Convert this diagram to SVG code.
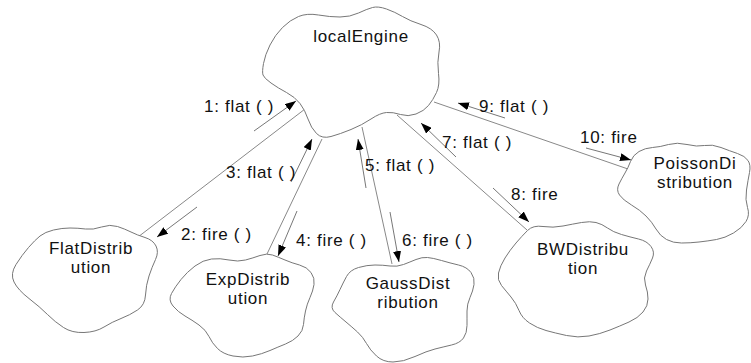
<svg xmlns="http://www.w3.org/2000/svg" width="751" height="363" viewBox="0 0 751 363">
<style>
.cloud{fill:#fff;stroke:#777;stroke-width:1;stroke-linejoin:round}
.conn{stroke:#888;stroke-width:1;fill:none}
.msg{stroke:#777;stroke-width:1;fill:none;marker-end:url(#ah)}
text{font-family:"Liberation Sans",Arial,Helvetica,sans-serif;font-size:17px;letter-spacing:0.7px;fill:#111}
.nl{text-anchor:middle}
</style>
<defs>
<marker id="ah" viewBox="0 0 11 8" refX="11" refY="4" markerWidth="11" markerHeight="8" orient="auto" markerUnits="userSpaceOnUse"><path d="M0,0 L11,4 L0,8 Z" fill="#000"/></marker>
</defs>
<rect width="751" height="363" fill="#fff"/>
<g id="connectors">
<line class="conn" x1="138" y1="237" x2="305" y2="109"/>
<line class="conn" x1="267" y1="254" x2="322" y2="139"/>
<line class="conn" x1="362" y1="127" x2="392" y2="264"/>
<line class="conn" x1="397" y1="115" x2="527" y2="230"/>
<line class="conn" x1="434" y1="102" x2="628" y2="169"/>
<line class="msg" x1="254" y1="131" x2="296" y2="101"/>
<line class="msg" x1="197" y1="207" x2="157" y2="237"/>
<line class="msg" x1="291" y1="182" x2="312" y2="139"/>
<line class="msg" x1="297" y1="211" x2="278" y2="256"/>
<line class="msg" x1="366" y1="188" x2="358" y2="139"/>
<line class="msg" x1="390" y1="212" x2="399" y2="262"/>
<line class="msg" x1="456" y1="157" x2="421" y2="123"/>
<line class="msg" x1="493" y1="188" x2="529" y2="222"/>
<line class="msg" x1="505" y1="118" x2="458" y2="103"/>
<line class="msg" x1="586" y1="148" x2="631" y2="160"/>
<text x="204" y="112">1: flat ( )</text>
<text x="181" y="240">2: fire ( )</text>
<text x="226" y="178">3: flat ( )</text>
<text x="296" y="246">4: fire ( )</text>
<text x="365" y="171">5: flat ( )</text>
<text x="402" y="246">6: fire ( )</text>
<text x="442" y="148">7: flat ( )</text>
<text x="511" y="200">8: fire</text>
<text x="479" y="112">9: flat ( )</text>
<text x="580" y="143">10: fire</text>
</g>
<g id="localEngine">
<path class="cloud" d="M263,75 Q262,72 263.5,63.5 Q265,55 270,45 Q275,35 282.5,27.5 Q290,20 298.5,16.5 Q307,13 318.5,15 Q330,17 340,17 Q350,17 358.5,13 Q367,9 372.5,7.5 Q378,6 386.5,9 Q395,12 402.5,16.5 Q410,21 421,24.5 Q432,28 436.5,35 Q441,42 439,52 Q437,62 438.5,73.5 Q440,85 436.5,92.5 Q433,100 428.5,105.5 Q424,111 416,114 Q408,117 400.5,114.5 Q393,112 386.5,112.5 Q380,113 371,119 Q362,125 351,129.5 Q340,134 331,136.5 Q322,139 316.5,133.5 Q311,128 308,119 Q305,110 300,103.5 Q295,97 286.5,92.5 Q278,88 271,83 Q264,78 263,75 Z"/>
<text class="nl" x="361" y="42">localEngine</text>
</g>
<g id="FlatDistribution">
<path class="cloud" d="M40,236 Q45,232 53.5,230 Q62,228 70,228 Q78,228 85.5,229 Q93,230 101.5,227 Q110,224 117.5,226.5 Q125,229 131,232 Q137,235 145,237.5 Q153,240 156,246 Q159,252 155.5,259.5 Q152,267 149,276 Q146,285 145.5,295 Q145,305 137.5,310 Q130,315 121,318.5 Q112,322 104,327 Q96,332 84,332.5 Q72,333 63.5,327.5 Q55,322 47.5,314.5 Q40,307 29,298.5 Q18,290 14,282 Q10,274 16,264.5 Q22,255 28.5,247.5 Q35,240 40,236 Z"/>
<text class="nl" x="91" y="254">FlatDistrib</text>
<text class="nl" x="91" y="273">ution</text>
</g>
<g id="ExpDistribution">
<path class="cloud" d="M195,266 Q203,260 211.5,259 Q220,258 229,260 Q238,262 245.5,260 Q253,258 260,255.5 Q267,253 272.5,255 Q278,257 285,260 Q292,263 299.5,265 Q307,267 311,272.5 Q315,278 314,284.5 Q313,291 310,297.5 Q307,304 305.5,311 Q304,318 303.5,324.5 Q303,331 298,336 Q293,341 285.5,344 Q278,347 270,350.5 Q262,354 252.5,356 Q243,358 233,356 Q223,354 217.5,348.5 Q212,343 209,336.5 Q206,330 199,325 Q192,320 185,316 Q178,312 173,306 Q168,300 171.5,293.5 Q175,287 181,279.5 Q187,272 195,266 Z"/>
<text class="nl" x="248" y="285">ExpDistrib</text>
<text class="nl" x="248" y="304">ution</text>
</g>
<g id="GaussDistribution">
<path class="cloud" d="M346.5,276.5 Q350,270 358.5,267.5 Q367,265 375,265 Q383,265 390,266 Q397,267 403.5,264.5 Q410,262 416,259.5 Q422,257 427.5,257.5 Q433,258 441.5,260.5 Q450,263 458.5,265 Q467,267 471,272.5 Q475,278 474,284.5 Q473,291 470,297.5 Q467,304 467,311 Q467,318 467,325.5 Q467,333 463.5,338 Q460,343 451.5,345 Q443,347 435,349 Q427,351 415,356.5 Q403,362 393,362 Q383,362 376.5,356 Q370,350 366.5,343.5 Q363,337 357.5,332 Q352,327 346,322 Q340,317 335,312.5 Q330,308 333.5,302 Q337,296 340,289.5 Q343,283 346.5,276.5 Z"/>
<text class="nl" x="408" y="289">GaussDist</text>
<text class="nl" x="408" y="308">ribution</text>
</g>
<g id="BWDistribution">
<path class="cloud" d="M527.5,230.5 Q533,225 543,226.5 Q553,228 563,226 Q573,224 581.5,222.5 Q590,221 596,222.5 Q602,224 607.5,228 Q613,232 621.5,234.5 Q630,237 638.5,239 Q647,241 651,246.5 Q655,252 652.5,258 Q650,264 646.5,271 Q643,278 645.5,285 Q648,292 648,299 Q648,306 643,312 Q638,318 629,322 Q620,326 610,330 Q600,334 589,336 Q578,338 566.5,335.5 Q555,333 546,330.5 Q537,328 529.5,323 Q522,318 519,310.5 Q516,303 511,297 Q506,291 501.5,285.5 Q497,280 498.5,273 Q500,266 505,258 Q510,250 516,243 Q522,236 527.5,230.5 Z"/>
<text class="nl" x="583" y="255">BWDistribu</text>
<text class="nl" x="583" y="274">tion</text>
</g>
<g id="PoissonDistribution">
<path class="cloud" d="M630.5,161.5 Q633,155 639,151.5 Q645,148 652.5,147.5 Q660,147 668.5,144.5 Q677,142 687,144.5 Q697,147 704.5,145.5 Q712,144 721,147.5 Q730,151 737.5,153.5 Q745,156 748,160.5 Q751,165 749.5,172.5 Q748,180 746.5,190 Q745,200 747.5,207.5 Q750,215 746,221.5 Q742,228 733.5,233 Q725,238 716.5,239.5 Q708,241 699,242 Q690,243 681.5,243 Q673,243 666.5,239.5 Q660,236 656,229 Q652,222 646,216 Q640,210 631.5,205 Q623,200 619.5,195 Q616,190 619,184 Q622,178 625,173 Q628,168 630.5,161.5 Z"/>
<text class="nl" x="695" y="169">PoissonDi</text>
<text class="nl" x="695" y="188">stribution</text>
</g>
</svg>
